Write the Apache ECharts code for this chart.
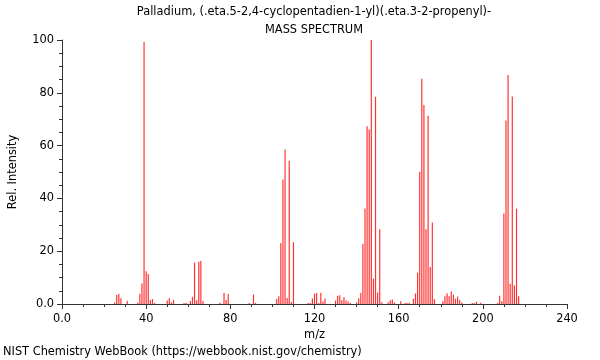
<!DOCTYPE html>
<html><head><meta charset="utf-8">
<script src="https://cdn.jsdelivr.net/npm/echarts@6/dist/echarts.min.js"></script>
<style>html,body{margin:0;padding:0;background:#fff}#c{width:600px;height:360px}</style>
</head><body><div id="c"></div>
<script>
const titleLine1 = 'Palladium, (.eta.5-2,4-cyclopentadien-1-yl)(.eta.3-2-propenyl)-';
const titleLine2 = 'MASS SPECTRUM';
const footer = 'NIST Chemistry WebBook (https://webbook.nist.gov/chemistry)';
const mz = [25,26,27,28,31,36,37,38,39,40,41,42,43,44,
  50,51,52,53,58,59,61,62,63,64,65,66,67,
  75,77,78,79,89,91,92,
  102,103,104,105,106,107,108,109,110,
  117,118,119,120,121,122,123,124,125,
  130,131,132,133,134,135,136,137,
  140,141,142,143,144,145,146,147,148,149,150,151,152,
  155,156,157,158,161,163,164,165,
  167,168,169,170,171,172,173,174,175,176,177,
  181,182,183,184,185,186,187,188,189,190,
  195,196,197,199,
  207,208,209,210,211,212,213,214,215,216,217];
const intensity = [0.6,3.4,3.8,2.2,1.2,0.5,3.9,7.8,99.2,12.4,11.4,1.4,1.9,0.4,
  1.3,2.3,0.6,1.5,0.4,0.4,1.1,2.7,15.7,1.4,16.0,16.4,1.1,
  0.5,4.2,1.5,3.8,0.4,3.6,0.4,
  1.9,2.9,23.1,47.2,58.5,2.3,54.3,0.8,23.4,
  0.4,0.4,2.1,3.9,4.2,0.4,4.3,0.9,2.1,
  1.3,3.1,3.3,1.4,2.6,1.3,0.9,0.4,
  0.6,2.2,4.2,22.8,36.2,67.3,66.1,100,9.6,78.5,4.4,28.3,0.7,
  0.7,1.4,1.7,0.6,1.0,0.4,0.4,0.5,
  2.0,4.0,11.8,50.1,85.3,75.4,28.3,71.3,14.0,30.9,1.8,
  1.0,2.9,4.1,2.9,4.7,3.5,2.0,2.8,1.5,0.6,
  0.4,0.4,0.9,0.5,
  0.4,3.1,1.0,34.3,69.5,86.7,7.7,78.6,7.0,36.1,2.9];
const xTicks = {min:0, max:240, interval:40};
const yTicks = {min:0, max:100, interval:20};

const font = 'DejaVu Sans';
const axisColor = '#333';
const chart = echarts.init(document.getElementById('c'), null, {renderer:'canvas'});
const fmt = v => v === 0 ? '0.0' : String(v);
const ts = {fontFamily:font,fontSize:11.4,fontWeight:'normal',color:'#000'};
chart.setOption({
  animation:false,
  backgroundColor:'#fff',
  title:[
    {text:titleLine1, left:314, top:7, padding:0, textAlign:'center', textStyle:ts},
    {text:titleLine2, left:314, top:25, padding:0, textAlign:'center', textStyle:ts},
    {text:footer, left:3, top:347, padding:0, textStyle:ts}
  ],
  grid:{left:61, right:33, top:40, bottom:56},
  xAxis:[{
    type:'value', min:xTicks.min, max:xTicks.max, interval:xTicks.interval,
    name:'m/z', nameLocation:'middle', nameGap:24,
    nameTextStyle:{fontFamily:font,fontSize:11.4,color:'#000'},
    axisLine:{show:true, onZero:false, lineStyle:{color:axisColor,width:1}},
    axisTick:{show:true, length:5, lineStyle:{color:axisColor}},
    minorTick:{show:true, splitNumber:4, length:3, lineStyle:{color:axisColor}},
    axisLabel:{fontFamily:font,fontSize:11.4,color:'#000',margin:10, formatter:fmt},
    splitLine:{show:false}
  },{
    type:'value', position:'top', min:xTicks.min, max:xTicks.max,
    axisLine:{show:true, lineStyle:{color:axisColor,width:1}},
    axisTick:{show:false}, axisLabel:{show:false}, splitLine:{show:false}
  }],
  yAxis:{
    type:'value', min:yTicks.min, max:yTicks.max, interval:yTicks.interval,
    name:'Rel. Intensity', nameLocation:'middle', nameGap:43, nameRotate:90,
    nameTextStyle:{fontFamily:font,fontSize:11.4,color:'#000'},
    axisLine:{show:true, onZero:false, lineStyle:{color:axisColor,width:1}},
    axisTick:{show:true, length:5, lineStyle:{color:axisColor}},
    minorTick:{show:true, splitNumber:4, length:3, lineStyle:{color:axisColor}},
    axisLabel:{fontFamily:font,fontSize:11.4,color:'#000',margin:8, formatter:fmt},
    splitLine:{show:false}
  },
  series:[{
    type:'bar', xAxisIndex:0, barWidth:1.2,
    itemStyle:{color:'rgba(255,0,0,0.8)'},
    data: mz.map((m,i)=>[m,intensity[i]])
  }]
});
</script></body></html>
